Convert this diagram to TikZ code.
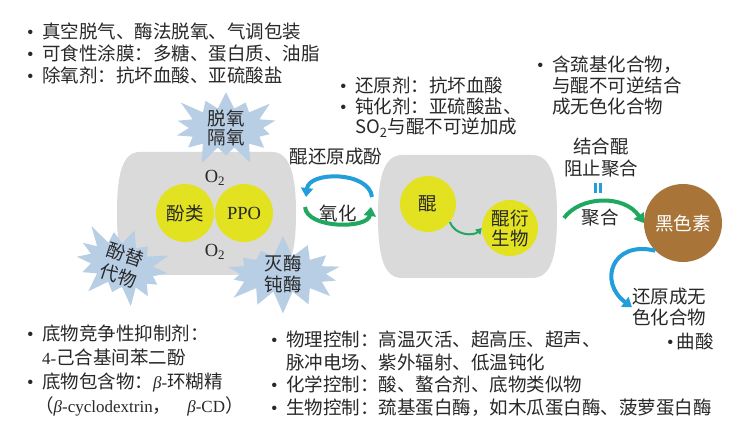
\documentclass[tikz,border=0pt]{standalone}
\usepackage{fontspec}
\setmainfont{Liberation Serif}
\newfontfamily\cjk{Noto Sans CJK SC}
\usetikzlibrary{shapes.symbols,arrows.meta,positioning}

\definecolor{boxgray}{RGB}{218,218,218}
\definecolor{ppoyellow}{RGB}{226,226,32}
\definecolor{burstblue}{RGB}{184,206,228}
\definecolor{arrblue}{RGB}{34,158,218}
\definecolor{arrgreen}{RGB}{32,168,96}
\definecolor{melanin}{RGB}{168,116,56}
\definecolor{txt}{RGB}{40,40,40}

\newcommand{\bul}{\makebox[15pt][l]{\rmfamily\textbullet}}
\newcommand{\ind}{\hspace*{15pt}}
\newcommand{\lat}[1]{{\rmfamily\fontsize{17}{0}\selectfont #1}}

\begin{document}
\begin{tikzpicture}[x=1pt,y=-1pt,
  every node/.style={font=\cjk\fontsize{18.5}{21.5}\selectfont,text=txt},
  list/.style={anchor=north west,inner sep=0pt,align=left},
  dot/.style={circle,fill=ppoyellow,minimum size=58pt,inner sep=0pt},
  burst/.style={starburst,fill=burstblue,starburst points=14,
    starburst point height=22pt,minimum width=118pt,minimum height=84pt,inner sep=0pt},
  bigarrow/.style={line width=4pt,-{Triangle[width=12pt,length=9pt]}},
  smallarrow/.style={line width=2pt,-{Triangle[width=7pt,length=6pt]}}]

\fill[white] (0,0) rectangle (750,422);
\useasboundingbox (0,0) rectangle (750,422);

% the two gray boxes
\fill[boxgray] (140,152) -- (272,152) .. controls (290,152) and (296,175) .. (296,213)
  .. controls (296,252) and (290,275) .. (272,275) -- (140,275)
  .. controls (122,275) and (117,252) .. (117,213)
  .. controls (117,175) and (122,152) .. (140,152) -- cycle;
\fill[boxgray] (402,155) -- (532,155) .. controls (552,155) and (557,180) .. (557,216)
  .. controls (557,254) and (552,278) .. (532,278) -- (402,278)
  .. controls (383,278) and (378,254) .. (378,216)
  .. controls (378,180) and (383,155) .. (402,155) -- cycle;

% bursts
\node[burst] (noox) at (226,128) {};
\node[align=center,font=\cjk\fontsize{18.5}{19}\selectfont] at (noox) {脱氧\\隔氧};
\node[burst,rotate=-20,minimum width=110pt,minimum height=86pt] (subst) at (122,265) {};
\node[align=center,rotate=-18,font=\cjk\fontsize{18.5}{22}\selectfont] at (subst) {酚替\\代物};
\node[burst,random starburst=7,minimum width=130pt,minimum height=80pt] (inact) at (283,274) {};
\node[align=center,font=\cjk\fontsize{18.5}{21}\selectfont] at (inact) {灭酶\\钝酶};

% substrate and enzyme
\node[dot] (phenol) at (185,213) {酚类};
\node[dot] (ppo) at (244,213) {\rmfamily PPO};
\node (otop) at (215,178) {\rmfamily O\textsubscript{2}};
\node (obot) at (215,252) {\rmfamily O\textsubscript{2}};

% quinone box
\node[dot,minimum size=56pt] (quin) at (428,204) {醌};
\node[dot,minimum size=56pt,align=center,font=\cjk\fontsize{18.5}{20}\selectfont] (deriv) at (510,228) {醌衍\\生物};
\draw[smallarrow,arrgreen] (450,222) .. controls (455,236) and (474,236) .. (deriv.west);

% cycle between boxes
\node (back) at (336,157) {醌还原成酚};
\node (oxid) at (338,213) {氧化};
\coordinate (cycR) at (372,197);
\coordinate (cycL) at (306,197);
\coordinate (cgL) at (305,207);
\coordinate (cgR) at (371,207);
\draw[bigarrow,arrblue] (cycR) .. controls (369,171) and (309,171) .. (cycL);
\draw[bigarrow,arrgreen] (cgL) .. controls (307,229) and (368,229) .. (cgR);

% melanin
\node[circle,fill=melanin,minimum size=78pt,inner sep=0pt,text=white] (mel) at (683,223) {黑色素};
\node[align=center,font=\cjk\fontsize{18.5}{22}\selectfont] (block) at (601,158) {结合醌\\阻止聚合};
\node[text=arrblue,inner sep=0pt] (eq) at (598,188) {\rule{3pt}{10pt}\hspace{2.5pt}\rule{3pt}{10pt}};
\node (poly) at (600,218) {聚合};
\coordinate (pgL) at (564,218);
\draw[bigarrow,arrgreen] (pgL) .. controls (580,196) and (624,194) .. (mel.west);
\node[list,font=\cjk\fontsize{18.5}{21}\selectfont] (colorless) at (632,288) {还原成无\\色化合物};
\draw[bigarrow,arrblue] (mel.south west) .. controls (612,240) and (598,282) .. (colorless.west);
\node[anchor=west,inner sep=0pt] (kojic) at (667,341) {{\rmfamily\textbullet}\hspace{3pt}曲酸};

% lists
\node[list,font=\cjk\fontsize{18.5}{22}\selectfont] (pack) at (27,23)
  {\bul 真空脱气、酶法脱氧、气调包装\\
   \bul 可食性涂膜：多糖、蛋白质、油脂\\
   \bul 除氧剂：抗坏血酸、亚硫酸盐};
\node[list,font=\cjk\fontsize{18.5}{20.5}\selectfont] (reduce) at (340,77)
  {\bul 还原剂：抗坏血酸\\
   \bul 钝化剂：亚硫酸盐、\\
   \ind SO\textsubscript{2}与醌不可逆加成};
\node[list,font=\cjk\fontsize{18.5}{21}\selectfont] (thiol) at (537,56)
  {\bul 含巯基化合物，\\
   \ind 与醌不可逆结合\\
   \ind 成无色化合物};
\node[list,font=\cjk\fontsize{18.5}{24}\selectfont] (inhib) at (27,325)
  {\bul 底物竞争性抑制剂：\\
   \ind \lat{4-}己合基间苯二酚\\
   \bul 底物包含物：\lat{\itshape β}\lat{-}环糊精\\
   \hspace*{8pt}（\lat{\itshape β}\lat{-cyclodextrin}，\hspace{16pt}\lat{\itshape β}\lat{-CD}）};
\node[list,font=\cjk\fontsize{18.5}{22.5}\selectfont] (control) at (271,331)
  {\bul 物理控制：高温灭活、超高压、超声、\\
   \ind 脉冲电场、紫外辐射、低温钝化\\
   \bul 化学控制：酸、螯合剂、底物类似物\\
   \bul 生物控制：巯基蛋白酶，如木瓜蛋白酶、菠萝蛋白酶};
\end{tikzpicture}
\end{document}
